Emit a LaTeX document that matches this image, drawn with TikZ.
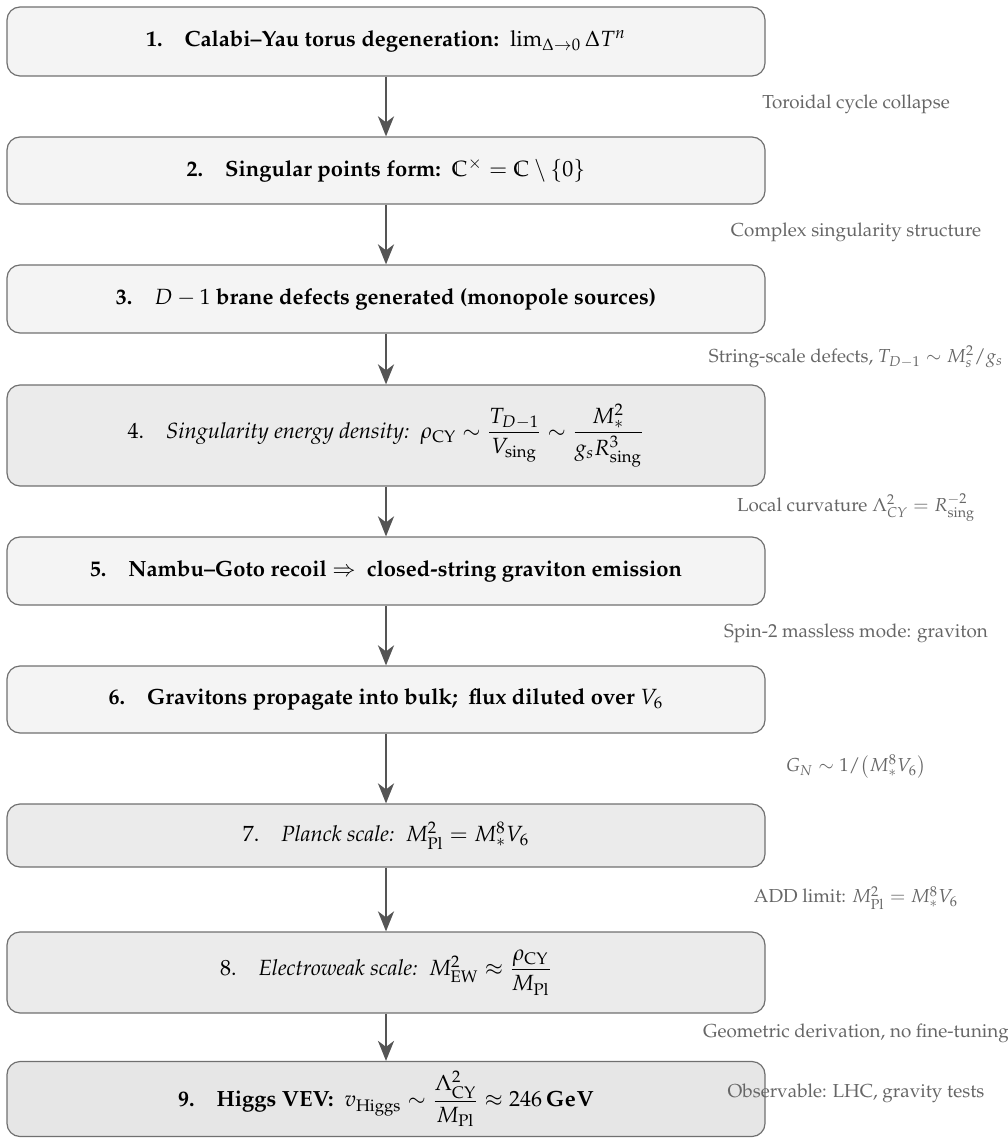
\documentclass[tikz,border=0pt]{standalone}
\usepackage{amsmath}
\usepackage[T1]{fontenc}
\usepackage{mathpazo}
\usetikzlibrary{arrows.meta}
\definecolor{boxA}{HTML}{F4F4F4}
\definecolor{boxB}{HTML}{EBEBEB}
\definecolor{boxC}{HTML}{E6E6E6}
\definecolor{edgec}{HTML}{707070}
\definecolor{arrc}{HTML}{555555}
\definecolor{labc}{HTML}{666666}
\begin{document}
\begin{tikzpicture}[x=0.5pt,y=-0.5pt,
  flowbox/.style={draw=edgec, line width=0.6pt, rounded corners=6.5pt, minimum width=379pt, inner sep=0pt, align=center, font=\fontsize{11}{13}\selectfont},
  flow/.style={draw=arrc, line width=1.2pt, -{Stealth[length=10pt,width=8pt,inset=3pt]}},
  note/.style={text=labc, font=\fontsize{9.4}{11}\selectfont, inner sep=0pt}]
\useasboundingbox (0,0) rectangle (1007,1138);
\node[flowbox, fill=boxA, minimum height=34.5pt] (b1) at (386,41.5)
  {\textbf{1.\quad Calabi--Yau torus degeneration:}\ \ $\lim_{\Delta\to0}\Delta T^n$};
\node[flowbox, fill=boxA, minimum height=33.5pt] (b2) at (386,170.5)
  {\textbf{2.\quad Singular points form:}\ \ $\mathbb{C}^\times = \mathbb{C}\setminus\{0\}$};
\node[flowbox, fill=boxA, minimum height=34pt] (b3) at (386,299)
  {\textbf{3.\quad $D-1$ brane defects generated (monopole sources)}};
\node[flowbox, fill=boxB, minimum height=50.5pt] (b4) at (386,435.5)
  {4.\quad\textit{Singularity energy density:}\ \ $\rho_{\mathrm{CY}} \sim \dfrac{T_{D-1}}{V_{\mathrm{sing}}} \sim \dfrac{M_*^2}{g_s R_{\mathrm{sing}}^3}$};
\node[flowbox, fill=boxA, minimum height=34pt] (b5) at (386,571)
  {\textbf{5.\quad Nambu--Goto recoil $\Rightarrow$\ \ closed-string graviton emission}};
\node[flowbox, fill=boxA, minimum height=33.5pt] (b6) at (386,699.5)
  {\textbf{6.\quad Gravitons propagate into bulk;\ \ flux diluted over $V_6$}};
\node[flowbox, fill=boxB, minimum height=31.5pt] (b7) at (386,835.5)
  {7.\quad\textit{Planck scale:}\ \ $M_{\mathrm{Pl}}^2 = M_*^8 V_6$};
\node[flowbox, fill=boxB, minimum height=40.5pt] (b8) at (386,972.5)
  {8.\quad\textit{Electroweak scale:}\ \ $M_{\mathrm{EW}}^2 \approx \dfrac{\rho_{\mathrm{CY}}}{M_{\mathrm{Pl}}}$};
\node[flowbox, fill=boxC, minimum height=37.5pt] (b9) at (386,1099)
  {\textbf{9.\quad Higgs VEV:}\ \ $v_{\mathrm{Higgs}} \sim \dfrac{\Lambda_{\mathrm{CY}}^2}{M_{\mathrm{Pl}}} \approx 246\,\mathbf{GeV}$};
\draw[flow] (b1) -- (b2);
\draw[flow] (b2) -- (b3);
\draw[flow] (b3) -- (b4);
\draw[flow] (b4) -- (b5);
\draw[flow] (b5) -- (b6);
\draw[flow] (b6) -- (b7);
\draw[flow] (b7) -- (b8);
\draw[flow] (b8) -- (b9);
\node[note] (n1) at (856,104) {Toroidal cycle collapse};
\node[note] (n2) at (856,232) {Complex singularity structure};
\node[note] (n3) at (856,357) {String-scale defects, $T_{D-1}\sim M_s^2/g_s$};
\node[note] (n4) at (856,508) {Local curvature $\Lambda_{CY}^2 = R_{\mathrm{sing}}^{-2}$};
\node[note] (n5) at (856,633) {Spin-2 massless mode: graviton};
\node[note] (n6) at (856,767) {$G_N \sim 1/\bigl(M_*^8 V_6\bigr)$};
\node[note] (n7) at (856,898) {ADD limit: $M_{\mathrm{Pl}}^2 = M_*^8 V_6$};
\node[note] (n8) at (856,1033) {Geometric derivation, no fine-tuning};
\node[note] (n9) at (856,1093) {Observable: LHC, gravity tests};
\end{tikzpicture}
\end{document}
